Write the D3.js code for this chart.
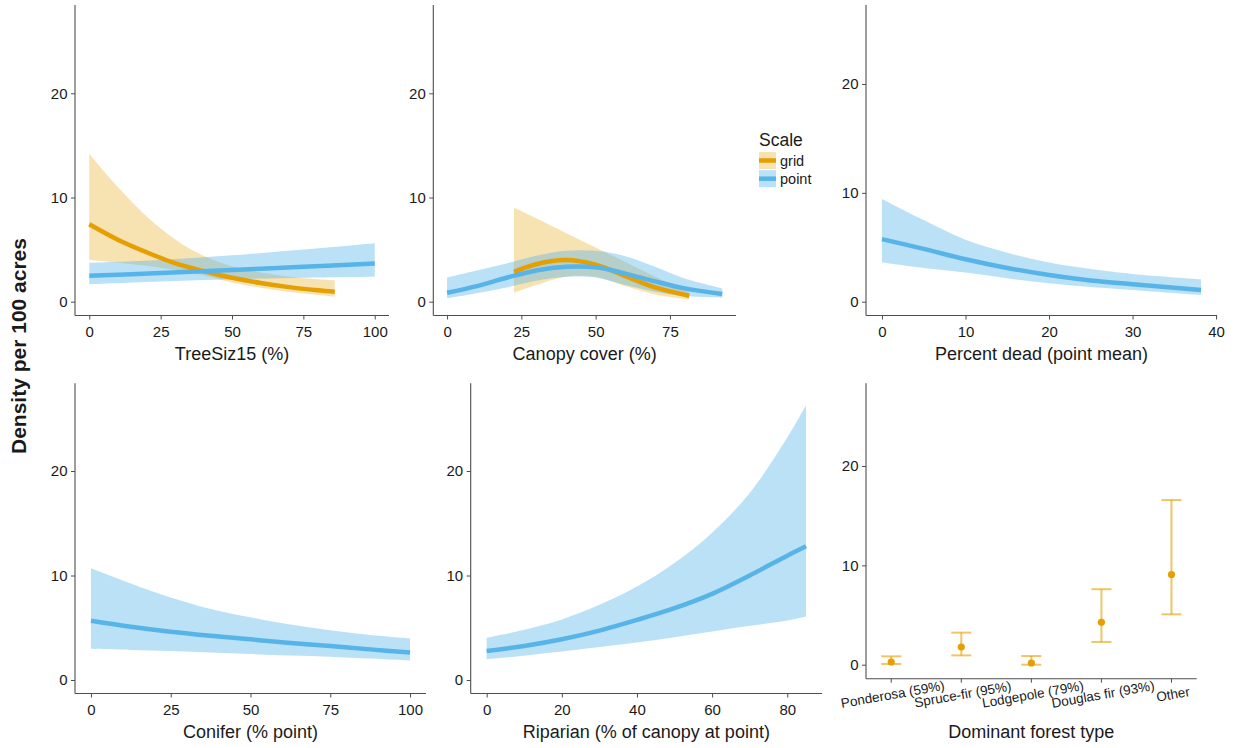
<!DOCTYPE html>
<html><head><meta charset="utf-8">
<script src="https://cdn.jsdelivr.net/npm/d3@7"></script>
<style>
body{margin:0;background:#fff}
text{font-family:"Liberation Sans",Arial,sans-serif;fill:#1a1a1a}
</style>
</head><body>
<svg id="c" width="1235" height="748"></svg>
<script>
// ---------------- DATA ----------------
// Panel 1: TreeSiz15 (%)
const treeGridX  = [0, 10, 20, 30, 40, 50, 60, 70, 80, 86];
const treeGridFit= [7.43, 5.95, 4.75, 3.7, 2.95, 2.3, 1.8, 1.4, 1.1, 0.95];
const treeGridLo = [4.0, 3.75, 3.45, 3.05, 2.55, 1.85, 1.35, 0.95, 0.65, 0.5];
const treeGridHi = [14.2, 11.0, 8.2, 6.0, 4.4, 3.4, 2.8, 2.4, 2.15, 2.05];
const treePointX  = [0, 25, 50, 75, 100];
const treePointFit= [2.49, 2.75, 3.05, 3.35, 3.67];
const treePointLo = [1.69, 1.95, 2.15, 2.3, 2.4];
const treePointHi = [3.73, 4.0, 4.45, 5.0, 5.61];

// Panel 2: Canopy cover (%)
const canGridX  = [22.5, 30, 40, 50, 60, 70, 81.5];
const canGridFit= [2.87, 3.6, 3.99, 3.55, 2.45, 1.37, 0.57];
const canGridLo = [0.86, 1.6, 2.4, 2.4, 1.5, 0.7, 0.22];
const canGridHi = [9.03, 8.0, 6.6, 5.2, 3.8, 2.4, 0.95];
const canPointX  = [0, 10, 20, 30, 40, 50, 60, 70, 80, 92.6];
const canPointFit= [0.86, 1.5, 2.3, 3.0, 3.35, 3.3, 2.7, 1.95, 1.28, 0.73];
const canPointLo = [0.32, 0.8, 1.37, 2.0, 2.39, 2.33, 1.6, 0.96, 0.54, 0.38];
const canPointHi = [2.33, 3.0, 3.67, 4.4, 4.88, 4.88, 4.37, 3.35, 2.23, 1.28];

// Panel 3: Percent dead (point mean)
const deadX  = [0, 5, 10, 15, 20, 25, 30, 38.2];
const deadFit= [5.75, 4.85, 3.9, 3.1, 2.45, 1.95, 1.6, 1.08];
const deadLo = [3.6, 3.1, 2.68, 2.15, 1.69, 1.35, 1.08, 0.62];
const deadHi = [9.44, 7.5, 5.69, 4.5, 3.6, 3.0, 2.55, 2.06];

// Panel 4: Conifer (% point)
const conX  = [0, 12.5, 25, 37.5, 50, 62.5, 75, 87.5, 100];
const conFit= [5.67, 5.1, 4.62, 4.23, 3.89, 3.55, 3.25, 2.93, 2.64];
const conLo = [2.99, 2.88, 2.77, 2.62, 2.48, 2.35, 2.23, 2.05, 1.85];
const conHi = [10.7, 9.24, 7.9, 6.8, 6.0, 5.3, 4.75, 4.3, 3.98];

// Panel 5: Riparian (% of canopy at point)
const ripX  = [0, 10, 20, 30, 40, 50, 60, 70, 80, 85];
const ripFit= [2.78, 3.26, 3.9, 4.73, 5.75, 6.87, 8.24, 10.0, 11.9, 12.8];
const ripLo = [1.98, 2.33, 2.72, 3.15, 3.58, 4.1, 4.63, 5.18, 5.69, 6.07];
const ripHi = [4.03, 4.8, 5.8, 7.2, 8.95, 11.2, 14.1, 17.9, 23.2, 26.3];

// Panel 6: Dominant forest type
const forestTypes = ["Ponderosa (59%)", "Spruce-fir (95%)", "Lodgepole (79%)", "Douglas fir (93%)", "Other"];
const forestFit   = [0.27, 1.78, 0.17, 4.27, 9.08];
const forestLo    = [0.07, 0.94, 0.0, 2.29, 5.07];
const forestHi    = [0.84, 3.23, 0.87, 7.6, 16.57];

const yTicks = [0, 10, 20];
const legendLabels = ["grid", "point"];

// ---------------- STYLE / LAYOUT ----------------
const COL = {grid:"#E69F00", point:"#56B4E9"};
const FILL = {grid:"rgba(230,159,0,0.3)", point:"rgba(86,180,233,0.4)"};
const AX = "#4d4d4d";
const layout = {
  tree:   {xr:[75,389],    yt:5,     yb:315.5, y0:301.7, y20:93.3, ty:360},
  canopy: {xr:[433.3,736], yt:5,     yb:315.5, y0:301.7, y20:93.3, ty:360},
  dead:   {xr:[866,1217],  yt:5,     yb:315.5, y0:301.7, y20:84,   ty:360},
  conifer:{xr:[75,426],    yt:383.3, yb:693.5, y0:680,   y20:471,  ty:738},
  ripar:  {xr:[470.7,822], yt:383.3, yb:693.5, y0:680,   y20:471,  ty:738},
  forest: {xr:[866,1196.7],yt:383.3, yb:678.7, y0:664.7, y20:466,  ty:738}
};

const svg = d3.select("#c");

function zip(xs, fit, lo, hi){ return xs.map((x,i)=>({x, fit:fit[i], lo:lo[i], hi:hi[i]})); }
function expand(ext){ const d=ext[1]-ext[0]; return [ext[0]-0.05*d, ext[1]+0.05*d]; }

function frame(L, title){
  const g = svg.append("g");
  const y = d3.scaleLinear().domain([0,20]).range([L.y0, L.y20]);
  g.append("line").attr("x1",L.xr[0]).attr("x2",L.xr[0]).attr("y1",L.yt).attr("y2",L.yb)
    .attr("stroke",AX).attr("stroke-width",1.1);
  g.append("line").attr("x1",L.xr[0]).attr("x2",L.xr[1]).attr("y1",L.yb).attr("y2",L.yb)
    .attr("stroke",AX).attr("stroke-width",1.1);
  const ya = g.append("g").attr("transform",`translate(${L.xr[0]},0)`)
    .call(d3.axisLeft(y).tickValues(yTicks).tickSize(4).tickPadding(3.5));
  ya.select(".domain").remove();
  ya.selectAll("line").attr("stroke",AX);
  ya.selectAll("text").style("font-size","15px").attr("fill","#1a1a1a");
  g.append("text").attr("x",(L.xr[0]+L.xr[1])/2).attr("y",L.ty)
    .attr("text-anchor","middle").style("font-size","18px").text(title);
  return {g, y};
}

const CURVE = d3.curveCatmullRom.alpha(0.5);

function contPanel(L, title, series, xTicks){
  const allX = series.flatMap(s=>s.data.map(d=>d.x));
  const x = d3.scaleLinear().domain(expand(d3.extent(allX))).range(L.xr);
  const {g, y} = frame(L, title);
  const xa = g.append("g").attr("transform",`translate(0,${L.yb})`)
    .call(d3.axisBottom(x).tickValues(xTicks).tickSize(4).tickPadding(7));
  xa.select(".domain").remove();
  xa.selectAll("line").attr("stroke",AX);
  xa.selectAll("text").style("font-size","15px").attr("fill","#1a1a1a");
  const area = d3.area().x(d=>x(d.x)).y0(d=>y(d.lo)).y1(d=>y(d.hi)).curve(CURVE);
  const line = d3.line().x(d=>x(d.x)).y(d=>y(d.fit)).curve(CURVE);
  series.forEach(s=>{
    g.append("path").attr("d",area(s.data)).attr("fill",FILL[s.k]).attr("stroke","none");
  });
  series.forEach(s=>{
    g.append("path").attr("d",line(s.data)).attr("fill","none").attr("stroke",COL[s.k])
      .attr("stroke-width",4.5).attr("stroke-linecap","butt");
  });
}

contPanel(layout.tree, "TreeSiz15 (%)", [
  {k:"grid", data:zip(treeGridX,treeGridFit,treeGridLo,treeGridHi)},
  {k:"point", data:zip(treePointX,treePointFit,treePointLo,treePointHi)}], [0,25,50,75,100]);
contPanel(layout.canopy, "Canopy cover (%)", [
  {k:"grid", data:zip(canGridX,canGridFit,canGridLo,canGridHi)},
  {k:"point", data:zip(canPointX,canPointFit,canPointLo,canPointHi)}], [0,25,50,75]);
contPanel(layout.dead, "Percent dead (point mean)", [
  {k:"point", data:zip(deadX,deadFit,deadLo,deadHi)}], [0,10,20,30,40]);
contPanel(layout.conifer, "Conifer (% point)", [
  {k:"point", data:zip(conX,conFit,conLo,conHi)}], [0,25,50,75,100]);
contPanel(layout.ripar, "Riparian (% of canopy at point)", [
  {k:"point", data:zip(ripX,ripFit,ripLo,ripHi)}], [0,20,40,60,80]);

// Panel 6: categorical
(function(){
  const L = layout.forest;
  const x = d3.scalePoint().domain(forestTypes).range(L.xr).padding(0.36);
  const {g, y} = frame(L, "Dominant forest type");
  g.selectAll(".tk").data(forestTypes).join("line")
    .attr("x1",d=>x(d)).attr("x2",d=>x(d)).attr("y1",L.yb).attr("y2",L.yb+4).attr("stroke",AX);
  g.selectAll(".lb").data(forestTypes).join("text")
    .attr("transform",d=>`translate(${x(d)+1.5},${L.yb+15.5}) rotate(-10)`)
    .attr("dy","0.35em").attr("text-anchor","middle").style("font-size","13.5px").text(d=>d);
  const cap = x.step()*0.143;
  const data = forestTypes.map((t,i)=>({t, fit:forestFit[i], lo:forestLo[i], hi:forestHi[i]}));
  const eb = g.append("g").attr("stroke","rgba(230,159,0,0.6)").attr("stroke-width",2).attr("fill","none");
  data.forEach(d=>{
    const cx = x(d.t);
    eb.append("line").attr("x1",cx).attr("x2",cx).attr("y1",y(d.lo)).attr("y2",y(d.hi));
    eb.append("line").attr("x1",cx-cap).attr("x2",cx+cap).attr("y1",y(d.lo)).attr("y2",y(d.lo));
    eb.append("line").attr("x1",cx-cap).attr("x2",cx+cap).attr("y1",y(d.hi)).attr("y2",y(d.hi));
  });
  g.selectAll(".pt").data(data).join("circle")
    .attr("cx",d=>x(d.t)).attr("cy",d=>y(d.fit)).attr("r",3.6).attr("fill",COL.grid);
})();

// Legend
(function(){
  const g = svg.append("g").attr("transform","translate(759,0)");
  g.append("text").attr("x",0).attr("y",146).style("font-size","17.5px").text("Scale");
  legendLabels.forEach((k,i)=>{
    const top = 152 + i*18.2;
    g.append("rect").attr("x",0).attr("y",top).attr("width",17).attr("height",17).attr("fill",FILL[k]);
    g.append("line").attr("x1",0).attr("x2",17).attr("y1",top+8.5).attr("y2",top+8.5)
      .attr("stroke",COL[k]).attr("stroke-width",4.5);
    g.append("text").attr("x",21).attr("y",top+8.5).attr("dy","0.35em").style("font-size","14.5px").text(k);
  });
})();

// Y title
svg.append("text").attr("transform","translate(26,346) rotate(-90)").attr("text-anchor","middle")
  .style("font-size","21px").style("font-weight","bold").text("Density per 100 acres");
</script>
</body></html>
